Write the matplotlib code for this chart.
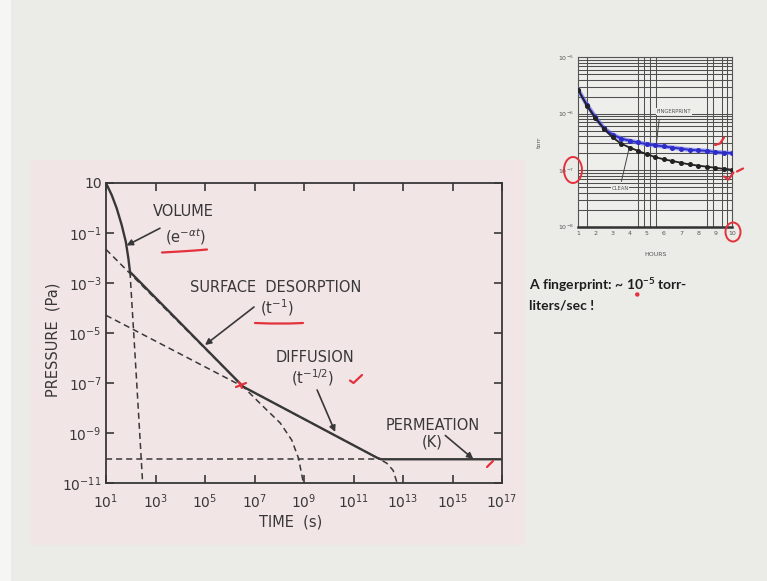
import matplotlib
matplotlib.use('Agg')
import matplotlib.pyplot as plt
from matplotlib.patches import Rectangle, Ellipse

# ---------------- main chart data (time in s, pressure in Pa) ----------------
solid_t = [10, 17, 27, 43, 63, 80, 93, 3.5e6, 9e11, 1.3e12, 1e17]
solid_p = [10, 3.3, 0.98, 0.21, 0.045, 0.0098, 0.0028, 7.1e-8, 1.02e-10, 8.9e-11, 8.9e-11]

volume_dash_t = [93, 145, 214, 302, 320]
volume_dash_p = [2.8e-3, 2.1e-6, 3.3e-9, 1e-11, 2e-12]

desorb_t = [10, 3.5e6, 2.3e7, 1.1e8, 3.2e8, 6e8, 9.5e8, 1.05e9]
desorb_p = [2.2e-2, 7.1e-8, 1.12e-8, 2.5e-9, 5.2e-10, 9.8e-11, 9.8e-12, 4e-12]

diffuse_t = [10, 3.5e6, 9e11, 2.2e12, 4e12, 5.6e12, 6.5e12]
diffuse_p = [5.1e-5, 7.1e-8, 1.02e-10, 6.2e-11, 3.2e-11, 1.1e-11, 4e-12]

perm_t = [10, 1.3e12]
perm_p = [8.9e-11, 8.9e-11]

x_tick_exps = [1, 3, 5, 7, 9, 11, 13, 15, 17]
y_tick_exps = [1, -1, -3, -5, -7, -9, -11]

# ---------------- inset data (hours, torr) ----------------
hours = [1, 1.5, 2, 2.5, 3, 3.5, 4, 4.5, 5, 5.5, 6, 6.5, 7, 7.5, 8, 8.5, 9, 9.5, 10]
fingerprint = [2.63e-6, 1.45e-6, 8.7e-7, 5.5e-7, 4.27e-7, 3.63e-7, 3.31e-7, 3.09e-7, 2.88e-7,
               2.75e-7, 2.63e-7, 2.51e-7, 2.40e-7, 2.29e-7, 2.24e-7, 2.19e-7, 2.09e-7, 2.04e-7, 2.0e-7]
clean = [2.63e-6, 1.38e-6, 8.3e-7, 5.37e-7, 3.8e-7, 2.95e-7, 2.51e-7, 2.19e-7, 1.91e-7,
         1.70e-7, 1.55e-7, 1.45e-7, 1.35e-7, 1.26e-7, 1.20e-7, 1.15e-7, 1.10e-7, 1.05e-7, 1.02e-7]
inset_hour_ticks = [1, 2, 3, 4, 5, 6, 7, 8, 9, 10]
inset_hour_labels = ['1', '2', '3', '4', '5', '6', '7', '8', '9', '10']
inset_y_exps = [-8, -7, -6, -5]
inset_vgrid = [1.53, 4.51, 4.84, 5.2, 5.54, 8.51, 8.9, 9.39, 9.68]

INK = '#383838'
RED = '#e3323c'

plt.rcParams['mathtext.fontset'] = 'dejavusans'
plt.rcParams['font.family'] = ['DejaVu Sans']

fig = plt.figure(figsize=(7.67, 5.81), dpi=100)
fig.patch.set_facecolor('#ebebe7')

# background: slide and pink scanned page
bg = fig.add_axes([0, 0, 1, 1], zorder=0)
bg.set_xlim(0, 767); bg.set_ylim(581, 0); bg.axis('off')
bg.add_patch(Rectangle((0, 0), 11, 581, color='#f6f6f4', lw=0))
bg.add_patch(Rectangle((30, 160), 495, 385, color='#f2e5e6', lw=0))

# ---------------- main axes ----------------
ax = fig.add_axes([106/767, 1 - 483/581, 396/767, 300/581], zorder=1)
ax.set_facecolor('none')
ax.set_xscale('log'); ax.set_yscale('log')
ax.set_xlim(10, 1e17); ax.set_ylim(1e-11, 10)

dash = (0, (4, 2.6))
ax.plot(volume_dash_t, volume_dash_p, color=INK, lw=1.1, ls=dash)
ax.plot(desorb_t, desorb_p, color=INK, lw=1.1, ls=dash)
ax.plot(diffuse_t, diffuse_p, color=INK, lw=1.1, ls=dash)
ax.plot(perm_t, perm_p, color=INK, lw=1.1, ls=dash)
ax.plot(solid_t, solid_p, color=INK, lw=1.7, solid_joinstyle='round')

ax.set_xticks([10.0**e for e in x_tick_exps])
ax.set_xticklabels([r'$10^{%d}$' % e for e in x_tick_exps])
ax.set_yticks([10.0**e for e in y_tick_exps])
ax.set_yticklabels(['10' if e == 1 else r'$10^{%d}$' % e for e in y_tick_exps])
ax.minorticks_off()
ax.tick_params(direction='in', length=6, width=1.2, color=INK, labelcolor=INK,
               labelsize=10, top=True, right=True)
ax.tick_params(axis='x', pad=7)
ax.tick_params(axis='y', pad=3)
for s in ax.spines.values():
    s.set_color(INK); s.set_linewidth(1.3)

ax.set_xlabel('TIME  (s)', fontsize=10.5, color=INK)
ax.set_ylabel('PRESSURE  (Pa)', fontsize=10.5, color=INK)
ax.xaxis.set_label_coords(0.465, -0.105)
ax.yaxis.set_label_coords(-0.115, 0.477)

tkw = dict(color=INK, fontsize=10.5, ha='center', va='center')
ax.text(10**4.11, 10**-0.16, 'VOLUME', **tkw)
ax.text(10**4.23, 10**-1.16, r'(e$^{-\alpha t}$)', **tkw)
ax.text(10**7.87, 10**-3.2, 'SURFACE  DESORPTION', **tkw)
ax.text(10**7.91, 10**-4.0, r'(t$^{-1}$)', **tkw)
ax.text(10**9.45, 10**-5.96, 'DIFFUSION', **tkw)
ax.text(10**9.33, 10**-6.8, r'(t$^{-1/2}$)', **tkw)
ax.text(10**14.22, 10**-8.68, 'PERMEATION', **tkw)
ax.text(10**14.18, 10**-9.36, '(K)', **tkw)

akw = dict(arrowstyle='-|>', color=INK, lw=1.2, mutation_scale=9, shrinkA=0, shrinkB=0)
ax.annotate('', xy=(10**1.83, 10**-1.5), xytext=(10**3.18, 10**-0.81), arrowprops=akw)
ax.annotate('', xy=(10**5.0, 10**-5.48), xytext=(10**6.98, 10**-3.96), arrowprops=akw)
ax.annotate('', xy=(10**10.26, 10**-8.96), xytext=(10**9.53, 10**-7.28), arrowprops=akw)
ax.annotate('', xy=(10**15.84, 10**-10.04), xytext=(10**14.71, 10**-9.1), arrowprops=akw)

# ---------------- inset ----------------
ax2 = fig.add_axes([578.3/767, 1 - 226.5/581, 154/767, 169.2/581], zorder=2)
ax2.set_facecolor('#eeeeea')
ax2.set_yscale('log')
ax2.set_xlim(1, 10); ax2.set_ylim(1e-8, 1e-5)
ax2.set_xticks(inset_hour_ticks)
ax2.set_xticklabels(inset_hour_labels)
ax2.set_xticks(inset_vgrid, minor=True)
ax2.set_yticks([10.0**e for e in inset_y_exps])
ax2.set_yticklabels([r'$10^{%d}$' % e for e in inset_y_exps])
ax2.grid(which='both', axis='y', color='#505050', lw=0.75)
ax2.grid(which='minor', axis='x', color='#505050', lw=0.75)
ax2.tick_params(which='both', length=0, labelsize=4.5, labelcolor='#555555', pad=3)
for s in ax2.spines.values():
    s.set_color('#555555'); s.set_linewidth(0.8)
ax2.spines['bottom'].set_linewidth(1.8)
ax2.spines['bottom'].set_color('#333333')
ax2.plot(hours, fingerprint, color='#6a6af0', lw=3.2, alpha=0.6, zorder=3)
ax2.plot(hours, fingerprint, color='#2c2cc8', lw=1.3, marker='o', ms=2.6, zorder=4)
ax2.plot(hours, clean, color='#222222', lw=1.3, marker='o', ms=2.6, zorder=4)
ax2.set_xlabel('HOURS', fontsize=4.5, color='#555555', labelpad=12)
ax2.set_ylabel('torr', fontsize=4.5, color='#555555', labelpad=12)
ax2.text(6.6, 10**-5.96, 'FINGERPRINT', fontsize=3.8, color='#555555', ha='center', va='center',
         bbox=dict(facecolor='#eeeeea', edgecolor='none', pad=0.5), zorder=5)
ax2.text(3.44, 10**-7.33, 'CLEAN', fontsize=3.8, color='#555555', ha='center', va='center',
         bbox=dict(facecolor='#eeeeea', edgecolor='none', pad=0.5), zorder=5)
ax2.annotate('', xy=(5.55, 10**-6.56), xytext=(5.75, 10**-6.05),
             arrowprops=dict(arrowstyle='-', color='#444444', lw=0.7))
ax2.annotate('', xy=(3.98, 10**-6.6), xytext=(3.48, 10**-7.25),
             arrowprops=dict(arrowstyle='-', color='#444444', lw=0.7))

# ---------------- overlay: slide text and red pen marks ----------------
ov = fig.add_axes([0, 0, 1, 1], zorder=5)
ov.set_xlim(0, 767); ov.set_ylim(581, 0); ov.axis('off')
ov.patch.set_alpha(0)

ov.text(529, 285, r'A fingerprint: ~ $\mathregular{10^{-5}}$ torr-', fontsize=10,
        family=['Lato', 'DejaVu Sans'], weight='bold', color='#1e1e1e', va='center', ha='left')
ov.text(529, 306, 'liters/sec !', fontsize=10, family=['Lato', 'DejaVu Sans'],
        weight='bold', color='#1e1e1e', va='center', ha='left')

rk = dict(color=RED, lw=1.6, solid_capstyle='round', solid_joinstyle='round')
ov.plot([162, 180, 195, 207], [252.5, 251.5, 250.5, 249.5], **rk)
ov.plot([255, 270, 290, 303], [323, 323.5, 323.5, 323], **rk)
ov.plot([350, 353.5, 362], [380.5, 383, 375], **rk)
ov.plot([236, 246], [387, 383], **rk)
ov.plot([239, 242], [382, 388], **rk)
ov.plot([487, 493], [467, 461], **rk)
ov.plot([715, 720, 724], [145, 143.5, 137.5], **rk)
ov.plot([724, 728.5, 733.5], [176.5, 179.5, 172.5], **rk)
ov.plot([737, 743], [171.5, 168.5], **rk)
ov.add_patch(Ellipse((573, 170), 18, 26, fill=False, edgecolor=RED, lw=1.4))
ov.add_patch(Ellipse((733, 232), 15, 19, fill=False, edgecolor=RED, lw=1.4))
ov.add_patch(Ellipse((637.3, 294.5), 3, 3, color=RED))

fig.savefig('out.png', dpi=100, facecolor=fig.get_facecolor())
